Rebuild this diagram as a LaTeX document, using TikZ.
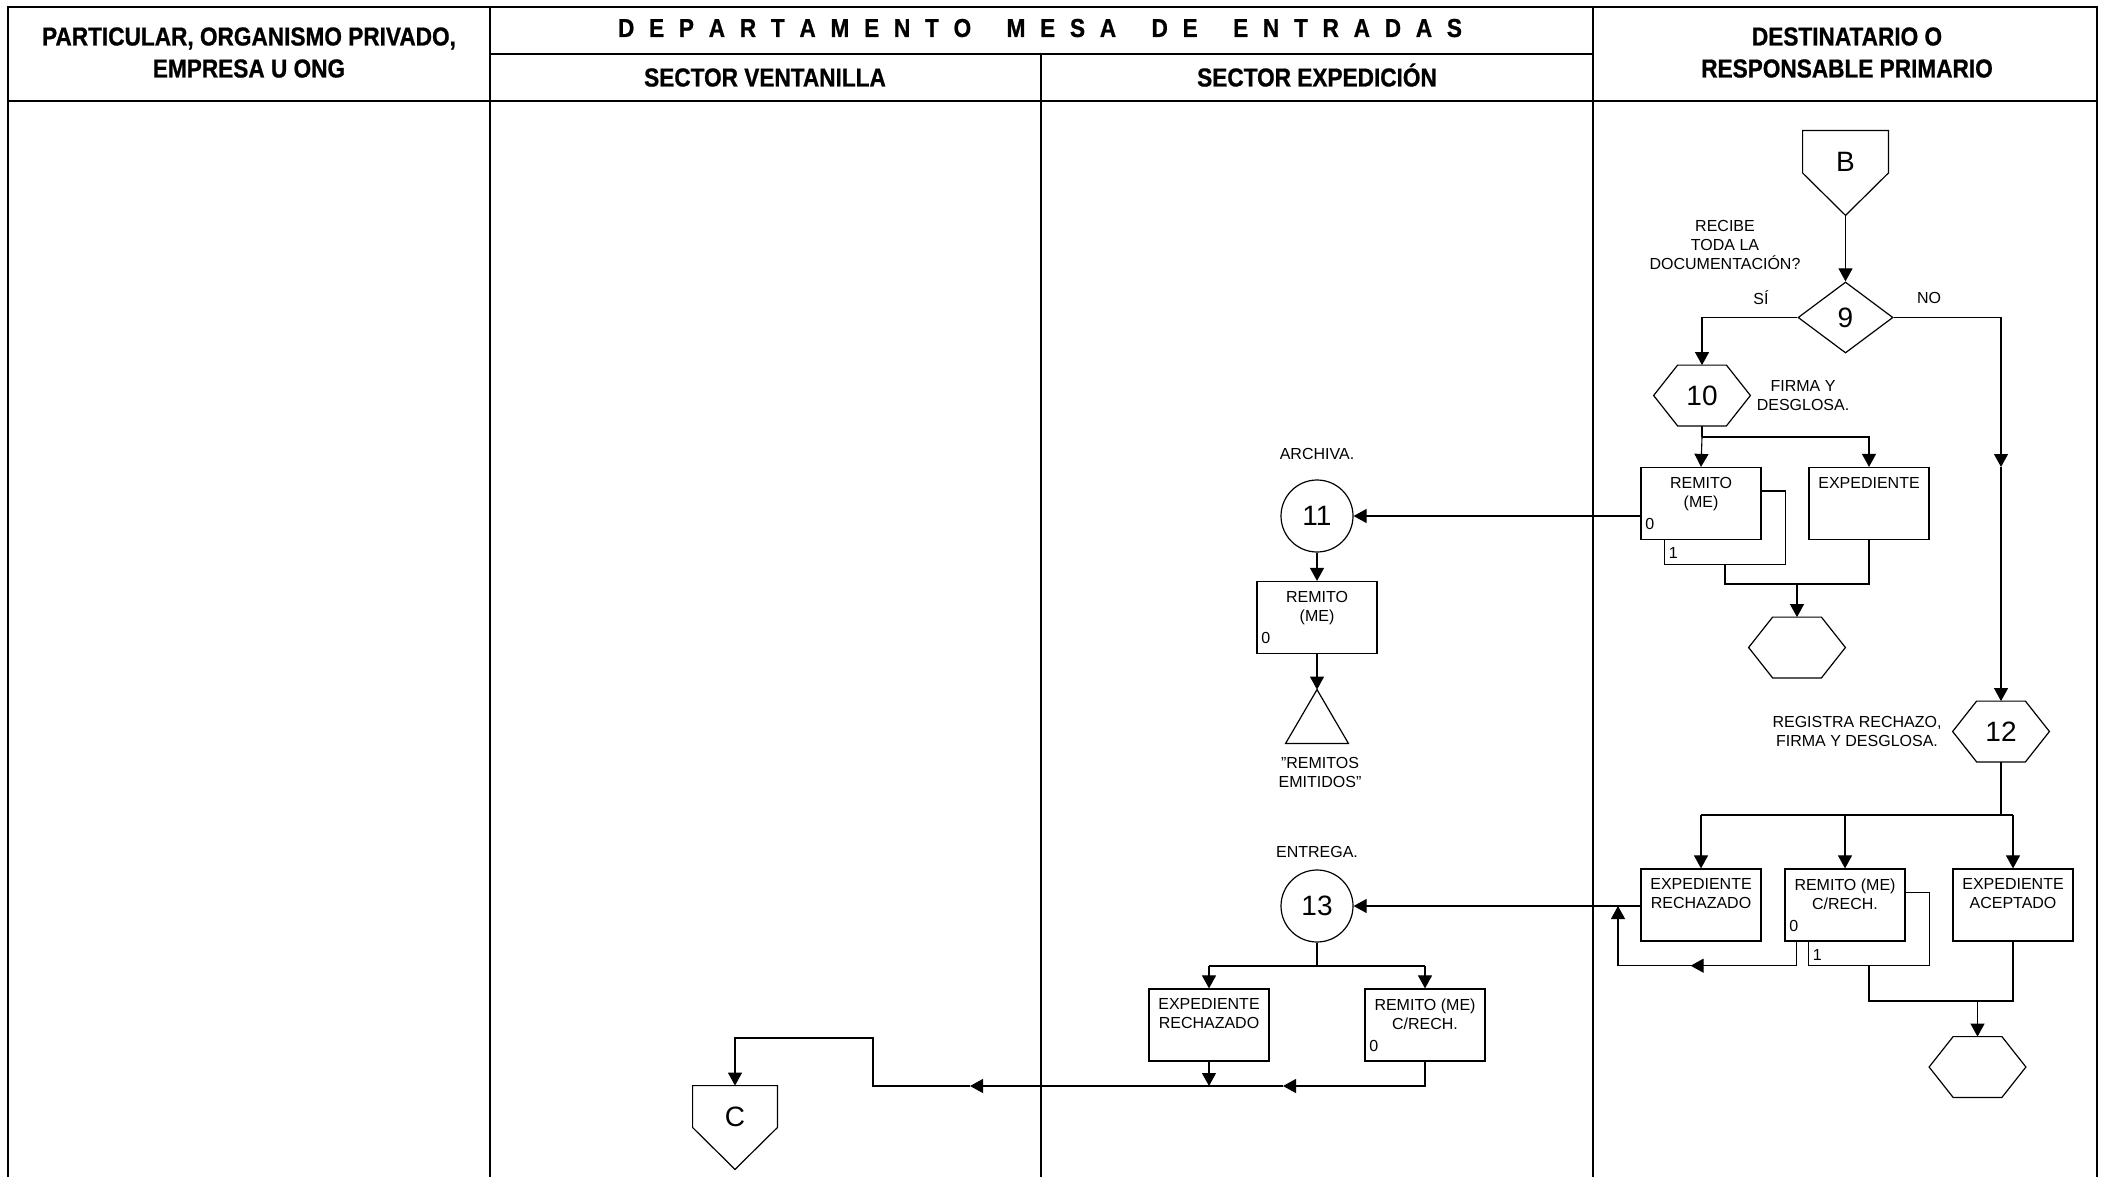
\documentclass[tikz,border=0pt]{standalone}
\usepackage{fontspec}
\setmainfont{Liberation Sans}
\newfontfamily\hdrfont{Liberation Sans Bold}[FakeStretch=0.87,FakeBold=0.8]
\usetikzlibrary{arrows.meta,shapes.geometric,calc}
\newcommand\tsp{\hspace{0pt plus 1fill}}
\newcommand\wsp{\hspace{0pt plus 2.4fill}}
\newcommand\hexdraw[1]{\draw[shp] (#1.west) -- ([xshift=12pt]#1.north west) -- ([xshift=-12pt]#1.north east) -- (#1.east) -- ([xshift=-12pt]#1.south east) -- ([xshift=12pt]#1.south west) -- cycle;}
\newcommand\pentdraw[1]{\draw[shp] (#1.north west) -- (#1.north east) -- (#1.east) -- (#1.south) -- (#1.west) -- cycle;}
\newcommand\tridraw[1]{\draw[shp] (#1.north) -- (#1.south east) -- (#1.south west) -- cycle;}
\newcommand\stackdraw[1]{\draw[shp] ([yshift=-12pt]#1.north east) -- ([xshift=12pt,yshift=-12pt]#1.north east) -- ([xshift=12pt,yshift=-12pt]#1.south east) -- ([xshift=12pt,yshift=-12pt]#1.south west) -- ([xshift=12pt]#1.south west);}
\begin{document}
\begin{tikzpicture}[x=0.5pt,y=-0.5pt,
  lane/.style={line width=1pt},
  flow/.style={line width=0.55pt},
  arr/.style={flow,-{Triangle[length=6.5pt,width=7pt]}},
  shp/.style={line width=0.6pt},
  num/.style={font=\fontsize{14}{16}\selectfont},
  box/.style={draw,line width=0.6pt,minimum width=60pt,minimum height=36pt,inner sep=0pt},
  txt/.style={font=\fontsize{8}{9.5}\selectfont,align=center,inner sep=0pt},
  hdr/.style={font=\hdrfont\fontsize{13}{15}\selectfont,inner sep=0pt,anchor=base},
  circ/.style={circle,draw,line width=0.6pt,minimum size=36pt,inner sep=0pt,num},
  diam/.style={diamond,draw,line width=0.6pt,minimum width=47.5pt,minimum height=35.5pt,inner sep=0pt,num},
  hexa/.style={inner sep=0pt,minimum width=48pt,minimum height=30pt,num},
  offpg/.style={inner sep=0pt,minimum width=42.5pt,minimum height=42pt,num},
  trin/.style={inner sep=0pt,minimum width=31pt,minimum height=26.5pt}]
\useasboundingbox (0,0) rectangle (2109,1177);
% lanes
\draw[lane] (8,1177) -- (8,7) -- (2097,7) -- (2097,1177);
\draw[lane] (8,101) -- (2097,101);
\draw[lane] (489.5,7) -- (489.5,1177);
\draw[lane] (1593,7) -- (1593,1177);
\draw[lane] (489.5,54) -- (1593,54);
\draw[lane] (1041,54) -- (1041,1177);
% headers
\node[hdr] (h1a) at (249,45.5) {PARTICULAR, ORGANISMO PRIVADO,};
\node[hdr] (h1b) at (249,77.5) {EMPRESA U ONG};
\node[hdr] (h2) at (1040,37) {\makebox[422pt]{D\tsp E\tsp P\tsp A\tsp R\tsp T\tsp A\tsp M\tsp E\tsp N\tsp T\tsp O\wsp M\tsp E\tsp S\tsp A\wsp D\tsp E\wsp E\tsp N\tsp T\tsp R\tsp A\tsp D\tsp A\tsp S}};
\node[hdr] (h3) at (765,86.5) {SECTOR VENTANILLA};
\node[hdr] (h4) at (1317,86.5) {SECTOR EXPEDICIÓN};
\node[hdr] (h5a) at (1847,45.5) {DESTINATARIO O};
\node[hdr] (h5b) at (1847,77.5) {RESPONSABLE PRIMARIO};
% shapes column 4
\node[offpg] (B) at (1845.5,173) {\raisebox{11pt}{B}}; \pentdraw{B}
\node[diam] (d9) at (1845.5,317.5) {9};
\node[hexa] (h10) at (1702,395.5) {10}; \hexdraw{h10}
\node[box] (r10) at (1701,503.5) {}; \stackdraw{r10}
\node[box] (e10) at (1869,503.5) {};
\node[hexa] (h10b) at (1797,647.5) {}; \hexdraw{h10b}
\node[hexa] (h12) at (2001,731.5) {12}; \hexdraw{h12}
\node[box] (er12) at (1701,905) {};
\node[box] (rc12) at (1845,905) {}; \stackdraw{rc12}
\node[box] (ea12) at (2013,905) {};
\node[hexa] (h12b) at (1977.5,1067) {}; \hexdraw{h12b}
% shapes column 3
\node[circ] (c11) at (1317,516) {11};
\node[box] (r11) at (1317,617.5) {};
\node[trin] (t11) at (1317,716.5) {}; \tridraw{t11}
\node[circ] (c13) at (1317,906) {13};
\node[box] (er13) at (1209,1025) {};
\node[box] (rc13) at (1425,1025) {};
% shape column 2
\node[offpg,minimum width=42pt,minimum height=41.5pt] (C) at (735,1127.5) {\raisebox{10.5pt}{C}}; \pentdraw{C}
% box texts
\node[txt,anchor=north] (r10t) at ([yshift=-4.9pt]r10.north) {REMITO\\(ME)};
\node[txt] (r10z) at ([xshift=4.75pt,yshift=8pt]r10.south west) {0};
\node[txt] (r10o) at ([xshift=16.5pt,yshift=-6.5pt]r10.south west) {1};
\node[txt,anchor=north] (e10t) at ([yshift=-4.9pt]e10.north) {EXPEDIENTE};
\node[txt,anchor=north] (er12t) at ([yshift=-4.9pt]er12.north) {EXPEDIENTE\\RECHAZADO};
\node[txt,anchor=north] (rc12t) at ([yshift=-4.9pt]rc12.north) {REMITO (ME)\\C/RECH.};
\node[txt] (rc12z) at ([xshift=4.75pt,yshift=8pt]rc12.south west) {0};
\node[txt] (rc12o) at ([xshift=16.5pt,yshift=-6.5pt]rc12.south west) {1};
\node[txt,anchor=north] (ea12t) at ([yshift=-4.9pt]ea12.north) {EXPEDIENTE\\ACEPTADO};
\node[txt,anchor=north] (r11t) at ([yshift=-4.9pt]r11.north) {REMITO\\(ME)};
\node[txt] (r11z) at ([xshift=4.75pt,yshift=8pt]r11.south west) {0};
\node[txt,anchor=north] (er13t) at ([yshift=-4.9pt]er13.north) {EXPEDIENTE\\RECHAZADO};
\node[txt,anchor=north] (rc13t) at ([yshift=-4.9pt]rc13.north) {REMITO (ME)\\C/RECH.};
\node[txt] (rc13z) at ([xshift=4.75pt,yshift=8pt]rc13.south west) {0};
% free labels
\node[txt] (lrec) at (1725,244.5) {RECIBE\\TODA LA\\DOCUMENTACIÓN?};
\node[txt] (lsi) at (1761,298) {SÍ};
\node[txt] (lno) at (1929,298) {NO};
\node[txt] (lfir) at (1803,395.5) {FIRMA Y\\DESGLOSA.};
\node[txt] (larc) at (1317,454) {ARCHIVA.};
\node[txt] (lrem) at (1320,772.5) {"REMITOS\\EMITIDOS"};
\node[txt] (lreg) at (1857,731) {REGISTRA RECHAZO,\\FIRMA Y DESGLOSA.};
\node[txt] (lent) at (1317,852) {ENTREGA.};
% coordinates
\coordinate (nomid) at (2001,467);
\coordinate (j10) at (1702,437);
\coordinate (rb10) at ([xshift=12pt,yshift=-12pt]r10.south);
\coordinate (k10) at (1797,584);
\coordinate (j12) at (2001,815);
\coordinate (ru12) at (1618,906);
\coordinate (rl12) at (1690.6,965.7);
\coordinate (rs12) at ([xshift=6pt]rc12.south west);
\coordinate (rb12) at ([xshift=12pt,yshift=-12pt]rc12.south);
\coordinate (k12) at (1977.5,1001);
\coordinate (j13) at (1317,966);
\coordinate (b13) at (1209,1086);
\coordinate (a1) at (1283,1086);
\coordinate (a2) at (970,1086);
\coordinate (up) at (873,1038);
% connectors
\draw[arr] (B.south) -- (d9.north);
\draw[arr] (d9.west) -| (h10.north);
\draw[arr] (d9.east) -| (nomid);
\draw[arr] (nomid) -- (h12.north);
\draw[flow] (h10.south) -- (j10);
\draw[arr] (j10) -- (r10.north);
\draw[arr] (j10) -| (e10.north);
\draw[flow] (rb10) |- (k10) -| (e10.south);
\draw[arr] (k10) -- (h10b.north);
\draw[arr] (c11 -| r10.west) -- (c11.east);
\draw[arr] (c11.south) -- (r11.north);
\draw[arr] (r11.south) -- (t11.north);
\draw[flow] (h12.south) -- (j12);
\draw[flow] (j12 -| er12) -- (j12 -| ea12);
\draw[arr] (j12 -| er12) -- (er12.north);
\draw[arr] (j12 -| rc12) -- (rc12.north);
\draw[arr] (j12 -| ea12) -- (ea12.north);
\draw[arr] (c13 -| er12.west) -- (c13.east);
\draw[arr] (rs12) |- (rl12);
\draw[arr] (rl12) -| (ru12);
\draw[flow] (rb12) |- (k12) -| (ea12.south);
\draw[arr] (k12) -- (h12b.north);
\draw[flow] (c13.south) -- (j13);
\draw[flow] (j13 -| er13) -- (j13 -| rc13);
\draw[arr] (j13 -| er13) -- (er13.north);
\draw[arr] (j13 -| rc13) -- (rc13.north);
\draw[arr] (er13.south) -- (b13);
\draw[arr] (rc13.south) |- (a1);
\draw[arr] (a1) -- (a2);
\draw[arr] (a2) -| (up) -| (C.north);
\end{tikzpicture}
\end{document}
